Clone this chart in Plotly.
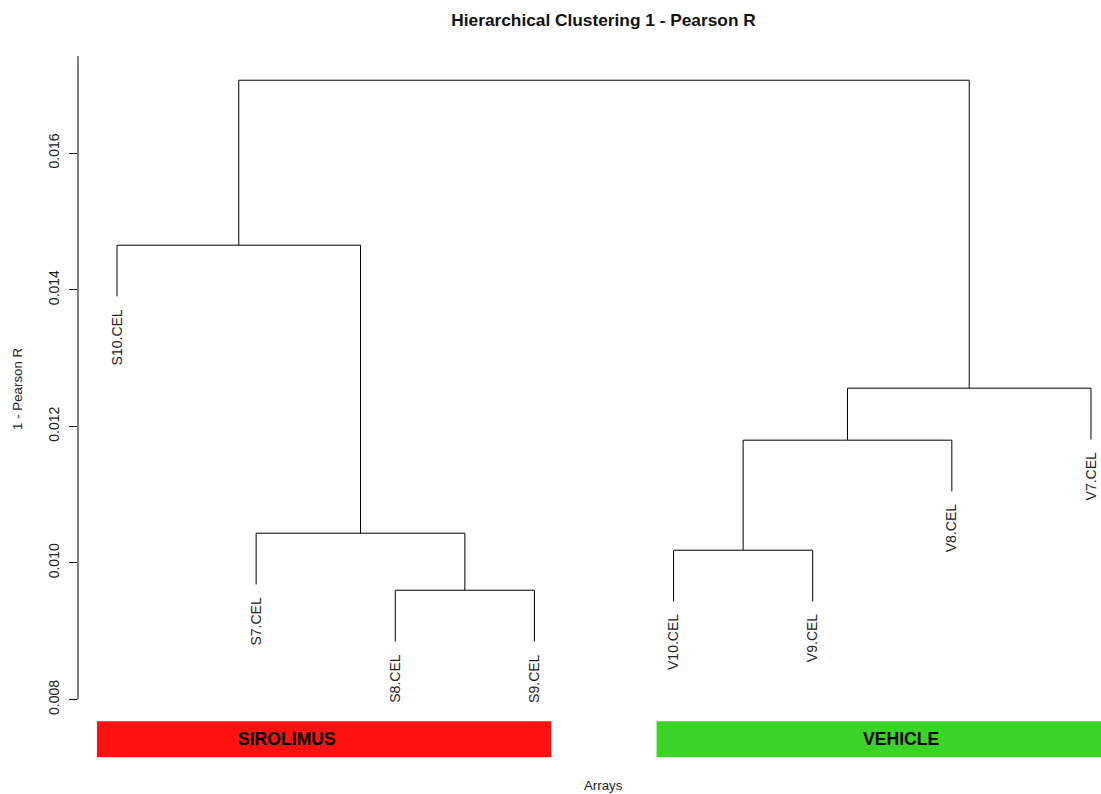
import plotly.graph_objects as go

# ---- data ----
leaf_labels = ["S10.CEL", "S7.CEL", "S8.CEL", "S9.CEL", "V10.CEL", "V9.CEL", "V8.CEL", "V7.CEL"]
# merges: (left, right, height); negative = leaf index (1-based), positive = earlier merge id
merge_left = [-3, -2, -1, -5, 4, 5, 3]
merge_right = [-4, 1, 2, -6, -7, -8, 6]
merge_height = [0.00960, 0.010435, 0.014652, 0.010186, 0.011797, 0.012558, 0.017067]
hang = 0.00075

group_names = ["SIROLIMUS", "VEHICLE"]
group_first_leaf = [1, 5]
group_last_leaf = [4, 8]
group_colors = ["rgb(253,17,17)", "rgb(59,211,39)"]
group_label_x = [2.22, 6.64]
group_pad_left = [0.144, 0.122]
group_pad_right = [0.122, 0.144]

y_ticks = [0.008, 0.010, 0.012, 0.014, 0.016]

# ---- build dendrogram geometry ----
n = len(leaf_labels)
leaf_x = list(range(1, n + 1))
node_x = {}
node_h = {}
xs, ys = [], []
leaf_end = [None] * n


def pos(ref):
    if ref < 0:
        return leaf_x[-ref - 1], None
    return node_x[ref], node_h[ref]


for i, (l, r, h) in enumerate(zip(merge_left, merge_right, merge_height), start=1):
    xl, hl = pos(l)
    xr, hr = pos(r)
    if hl is None:
        hl = h - hang
        leaf_end[-l - 1] = hl
    if hr is None:
        hr = h - hang
        leaf_end[-r - 1] = hr
    xs += [xl, xl, xr, xr, None]
    ys += [hl, h, h, hr, None]
    node_x[i] = (xl + xr) / 2
    node_h[i] = h

fig = go.Figure()
fig.add_trace(go.Scatter(x=xs, y=ys, mode="lines", line=dict(color="black", width=1),
                         hoverinfo="skip", showlegend=False))

FONT = "Liberation Sans, Arial, sans-serif"
annotations = []
for x, lab, ye in zip(leaf_x, leaf_labels, leaf_end):
    annotations.append(dict(x=x, y=ye, xref="x", yref="y", text=lab, showarrow=False,
                            textangle=-90, xanchor="center", yanchor="top", yshift=-11,
                            font=dict(family=FONT, size=14, color="#222")))

shapes = []
for name, f, l, c, lx, pl, pr in zip(group_names, group_first_leaf, group_last_leaf, group_colors,
                                      group_label_x, group_pad_left, group_pad_right):
    shapes.append(dict(type="rect", xref="x", yref="y", x0=f - pl, x1=l + pr,
                       y0=0.007155, y1=0.007682, fillcolor=c, line=dict(width=0), layer="below"))
    annotations.append(dict(x=lx, y=(0.007155 + 0.007682) / 2, xref="x", yref="y", text="<b>%s</b>" % name,
                            showarrow=False, xanchor="center", yanchor="middle",
                            font=dict(family=FONT, size=17.6, color="black")))

# y axis line
shapes.append(dict(type="line", xref="paper", yref="y", x0=0, x1=0, y0=y_ticks[0], y1=0.017419,
                   line=dict(color="black", width=1)))

annotations.append(dict(x=-0.0587, y=0.522, xref="paper", yref="paper", text="1 - Pearson R",
                        textangle=-90, showarrow=False, xanchor="center", yanchor="middle",
                        font=dict(family=FONT, size=13.3, color="#222")))
annotations.append(dict(x=0.5132, y=-0.0219, xref="paper", yref="paper", text="Arrays",
                        showarrow=False, xanchor="center", yanchor="middle",
                        font=dict(family=FONT, size=13.3, color="#222")))

fig.update_layout(
    width=1101, height=794,
    margin=dict(l=78, r=0, t=40, b=24),
    paper_bgcolor="white", plot_bgcolor="white",
    title=dict(text="<b>Hierarchical Clustering 1 - Pearson R</b>", x=603.5 / 1101, xanchor="center",
               y=1 - 20 / 794, yanchor="middle", xref="container", yref="container",
               font=dict(family=FONT, size=17.3, color="#111")),
    xaxis=dict(range=[0.7197, 8.072], showgrid=False, zeroline=False, showline=False,
               showticklabels=False, ticks=""),
    yaxis=dict(range=[0.006968, 0.017656], showgrid=False, zeroline=False, showline=False,
               tickvals=y_ticks, ticktext=["%.3f" % v for v in y_ticks], ticks="outside", ticklen=8,
               tickcolor="black", tickwidth=1, tickangle=-90, ticklabelstandoff=4,
               tickfont=dict(family=FONT, size=14, color="#222")),
    shapes=shapes, annotations=annotations,
)

fig.write_html("out.html", config={"displayModeBar": False},
               post_script="document.body.style.margin='0';document.body.style.overflow='hidden';")
